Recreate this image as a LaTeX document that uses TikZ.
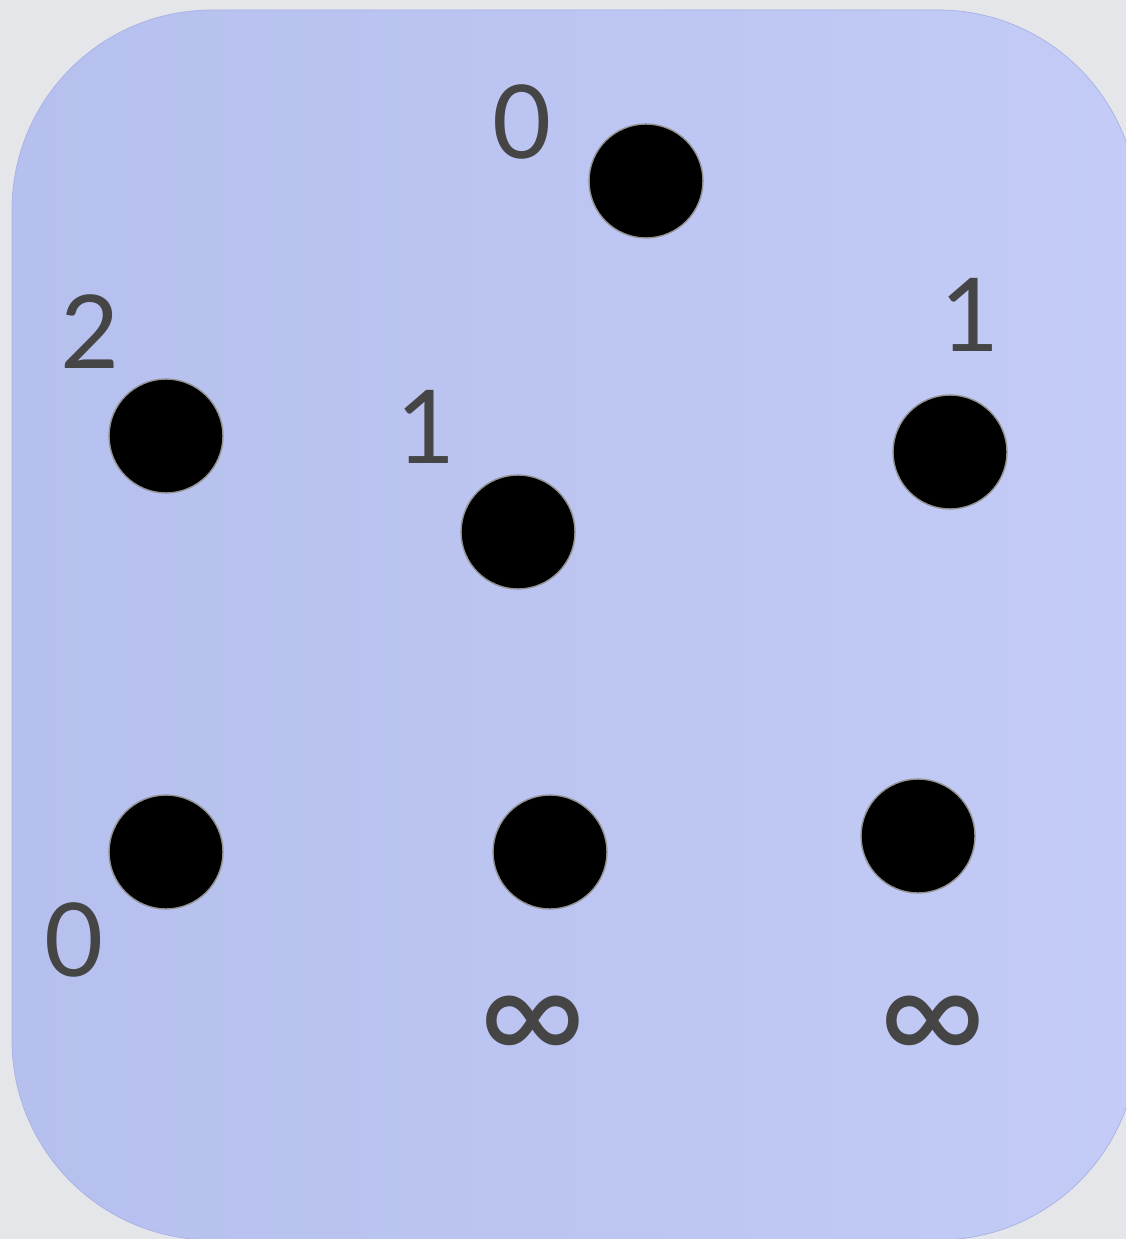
\documentclass[tikz,border=0pt]{standalone}
\usepackage{fontspec}
\setmainfont{Lato}
\definecolor{pagegray}{HTML}{E4E6EA}
\definecolor{boxfillA}{HTML}{B6C0EE}
\definecolor{boxfillB}{HTML}{C3CBF6}
\definecolor{boxedge}{HTML}{A9B1E6}
\definecolor{labelgray}{HTML}{454545}
\begin{document}
\begin{tikzpicture}[x=0.02cm, y=-0.02cm,
  every node/.style={inner sep=0pt},
  vertex/.style={circle, fill=black, draw=gray!85, line width=0.8pt, minimum size=2.28cm},
  dist/.style={text=labelgray, font=\fontsize{58}{60}\selectfont},
  inf/.style={dist, font=\fontsize{84}{86}\selectfont}]
\useasboundingbox (0,0) rectangle (1126,1239);
\fill[pagegray] (0,0) rectangle (1126,1239);
\begin{scope}
\clip (0,0) rectangle (1126,1239);
\shade[shading angle=60, left color=boxfillA, right color=boxfillB, draw=boxedge, rounded corners=4cm] (12,10) rectangle (1138,1240);
\end{scope}
\node[vertex] (S) at (646,181) {};
\node[vertex] (A) at (166,436) {};
\node[vertex] (B) at (518,532) {};
\node[vertex] (C) at (950,452) {};
\node[vertex] (D) at (166,852) {};
\node[vertex] (E) at (550,852) {};
\node[vertex] (F) at (918,836) {};
\node[dist] (dS) at (522,122) {0};
\node[dist] (dA) at (90,332) {2};
\node[dist] (dB) at (426,427) {1};
\node[dist] (dC) at (970,315) {1};
\node[dist] (dD) at (74,940) {0};
\node[inf] (dE) at (533,1030) {∞};
\node[inf] (dF) at (933,1030) {∞};
\end{tikzpicture}
\end{document}
